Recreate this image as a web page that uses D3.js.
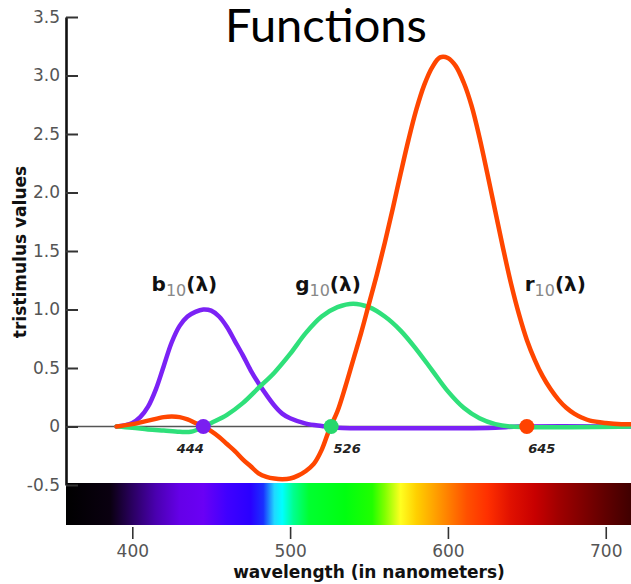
<!DOCTYPE html>
<html><head><meta charset="utf-8">
<script src="https://cdn.jsdelivr.net/npm/d3@7"></script>
<style>body{margin:0;background:#fff;} svg{display:block;}</style>
</head><body>
<svg id="chart" width="631" height="584"></svg>
<script>
// ---------- data ----------
const titleText = "Functions";
const yTitle = "tristimulus values";
const xTitle = "wavelength (in nanometers)";
const yTicks = [-0.5, 0, 0.5, 1.0, 1.5, 2.0, 2.5, 3.0, 3.5];
const xTicks = [400, 500, 600, 700];

const bLambda = [390,395,400,405,410,415,420,425,430,435,440,445,450,455,460,465,470,475,480,485,490,495,500,510,520,530,560,600,630,645,720];
const bValue  = [0,0.01,0.03,0.08,0.17,0.32,0.52,0.72,0.86,0.94,0.98,1.0,0.99,0.94,0.85,0.73,0.61,0.48,0.37,0.27,0.18,0.11,0.07,0.025,0.005,-0.01,-0.015,-0.015,-0.01,0,0];

const gLambda = [390,400,410,420,430,437,445,450,460,470,480,490,500,510,520,530,540,550,560,570,580,590,600,610,620,630,640,720];
const gValue  = [0,-0.01,-0.025,-0.035,-0.045,-0.045,-0.005,0.03,0.10,0.20,0.33,0.46,0.62,0.80,0.94,1.02,1.05,1.02,0.94,0.82,0.66,0.48,0.30,0.16,0.07,0.02,0,0];

const rLambda = [390,400,410,420,425,430,435,440,445,450,455,460,465,470,475,480,485,490,495,500,505,510,515,520,525,530,535,540,545,550,555,560,565,570,575,580,585,590,595,600,605,610,615,620,625,630,635,640,645,650,655,660,665,670,675,680,685,690,700,710,720];
const rValue  = [0,0.02,0.05,0.08,0.085,0.08,0.06,0.03,0.0,-0.04,-0.09,-0.15,-0.21,-0.28,-0.34,-0.40,-0.43,-0.445,-0.45,-0.445,-0.42,-0.38,-0.32,-0.20,-0.02,0.13,0.34,0.57,0.80,1.05,1.30,1.57,1.86,2.16,2.45,2.71,2.92,3.07,3.155,3.15,3.08,2.94,2.74,2.47,2.16,1.84,1.52,1.22,0.96,0.74,0.57,0.43,0.32,0.23,0.16,0.11,0.075,0.05,0.03,0.02,0.02];

const seriesLetters = ["b", "g", "r"];
const seriesSub = "10";
const seriesColors = ["#7b22f5", "#2fe07a", "#ff4600"];
const markerColors = ["#7a1ff0", "#27d86c", "#ff4200"];
const labelLambda = [433, 524, 668];
const labelValue = 1.16;

const markerLambda = [445, 526, 650];
const markerLabels = ["444", "526", "645"];
const markerLabelDx = [-13, 16, 15];

const spectrumLambda = [358,386,400,415,430,445,460,475,483,490,495,502,512,535,552,560,570,580,592,600,612,625,640,655,670,685,700,716];
const spectrumColor  = ["#000000","#0a0010","#2a0060","#4a00b0","#6500e8","#6a00f5","#4000ff","#2a00ff","#1a30ff","#20d8ff","#00ffff","#00ff90","#00ff30","#00ff10","#20ff00","#80ff00","#ffff20","#ffd000","#ffa000","#ff8000","#ff5000","#ff3000","#e01000","#c80000","#a00000","#800000","#600000","#400000"];

// ---------- drawing ----------
const svg = d3.select("#chart");
const x = d3.scaleLinear().domain([358, 716]).range([66, 631]);
const y = d3.scaleLinear().domain([-0.5, 3.5]).range([485, 17]);

// spectrum gradient
const defs = svg.append("defs");
const grad = defs.append("linearGradient").attr("id", "spec")
  .attr("gradientUnits", "userSpaceOnUse")
  .attr("x1", x(358)).attr("x2", x(716)).attr("y1", 0).attr("y2", 0);
spectrumLambda.forEach((l, i) => {
  grad.append("stop").attr("offset", (l - 358) / (716 - 358)).attr("stop-color", spectrumColor[i]);
});
svg.append("rect").attr("x", x(358)).attr("y", y(-0.5) - 2)
  .attr("width", x(716) - x(358)).attr("height", 525 - (y(-0.5) - 2))
  .attr("fill", "url(#spec)");

// zero line
svg.append("line").attr("x1", x(358)).attr("x2", x(716))
  .attr("y1", y(0)).attr("y2", y(0))
  .attr("stroke", "#555").attr("stroke-width", 1.5);

// y axis
const yAxis = svg.append("g").attr("transform", `translate(${x(358)},0)`)
  .call(d3.axisLeft(y).tickValues(yTicks).tickSizeInner(-12).tickSizeOuter(0).tickPadding(6)
    .tickFormat(d => d === 0 ? "0" : (d < 0 ? "-" + Math.abs(d).toFixed(1) : d.toFixed(1))));
yAxis.select(".domain").attr("stroke", "#111").attr("stroke-width", 2.6);
yAxis.selectAll(".tick line").attr("stroke", "#333").attr("stroke-width", 2);
yAxis.selectAll(".tick text").attr("fill", "#555")
  .style("font-family", "'DejaVu Sans', sans-serif").style("font-size", "17px");

// x axis
const xAxis = svg.append("g").attr("transform", "translate(0,525)")
  .call(d3.axisBottom(x).tickValues(xTicks).tickSizeInner(14).tickSizeOuter(0).tickPadding(6));
xAxis.select(".domain").remove();
xAxis.selectAll(".tick line").attr("y1", 2).attr("stroke", "#333").attr("stroke-width", 1.6);
xAxis.selectAll(".tick text").attr("fill", "#555")
  .style("font-family", "'DejaVu Sans', sans-serif").style("font-size", "17px");

// curves
const line = d3.line().x(d => x(d[0])).y(d => y(d[1])).curve(d3.curveCatmullRom.alpha(0.5));
const series = [
  d3.zip(bLambda, bValue),
  d3.zip(gLambda, gValue),
  d3.zip(rLambda, rValue)
];
series.forEach((s, i) => {
  svg.append("path").datum(s).attr("d", line)
    .attr("fill", "none").attr("stroke", seriesColors[i])
    .attr("stroke-width", 4.5).attr("stroke-linejoin", "round").attr("stroke-linecap", "round");
});

// markers
markerLambda.forEach((l, i) => {
  svg.append("circle").attr("cx", x(l)).attr("cy", y(0)).attr("r", 7.5).attr("fill", markerColors[i]);
  svg.append("text").attr("x", x(l) + markerLabelDx[i]).attr("y", y(0) + 26)
    .attr("text-anchor", "middle").attr("fill", "#222")
    .style("font-family", "'DejaVu Sans', sans-serif").style("font-size", "13px")
    .style("font-weight", "bold").style("font-style", "italic")
    .text(markerLabels[i]);
});

// curve labels
seriesLetters.forEach((c, i) => {
  const t = svg.append("text").attr("x", x(labelLambda[i])).attr("y", y(labelValue))
    .attr("text-anchor", "middle").attr("fill", "#111")
    .style("font-family", "'DejaVu Sans', sans-serif").style("font-size", "20px").style("font-weight", "bold");
  t.append("tspan").text(c);
  t.append("tspan").attr("dy", 5).style("font-size", "16px").style("font-weight", "normal").attr("fill", "#888").text(seriesSub);
  t.append("tspan").attr("dy", -5).text("(λ)");
});

// titles
svg.append("text").attr("x", 326).attr("y", 42).attr("text-anchor", "middle")
  .style("font-family", "Lato, 'Open Sans', sans-serif").style("font-size", "47px").attr("fill", "#000")
  .text(titleText);
svg.append("text").attr("transform", "translate(26,252) rotate(-90)").attr("text-anchor", "middle")
  .style("font-family", "'DejaVu Sans', sans-serif").style("font-size", "17px").style("font-weight", "bold").attr("fill", "#111")
  .text(yTitle);
svg.append("text").attr("x", 369).attr("y", 578).attr("text-anchor", "middle")
  .style("font-family", "'DejaVu Sans', sans-serif").style("font-size", "17px").style("font-weight", "bold").attr("fill", "#111")
  .text(xTitle);
</script>
</body></html>
